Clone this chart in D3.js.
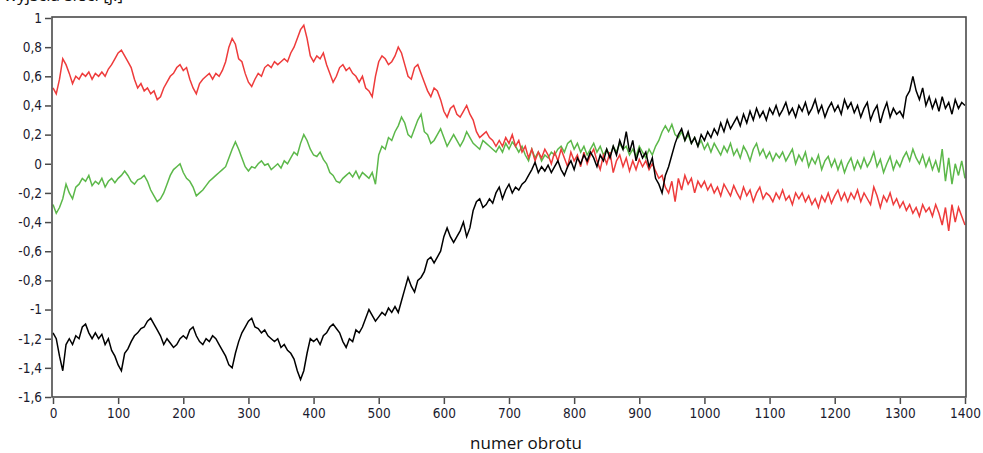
<!DOCTYPE html>
<html>
<head>
<meta charset="utf-8">
<script src="https://cdn.jsdelivr.net/npm/d3@7"></script>
<style>
  html, body { margin: 0; padding: 0; background: #fff; }
  svg { display: block; }
</style>
</head>
<body>
<svg id="chart" width="983" height="453"></svg>
<script>
// Turn step between consecutive samples
const turnStep = 5;

const yTicks = [1, 0.8, 0.6, 0.4, 0.2, 0, -0.2, -0.4, -0.6, -0.8, -1, -1.2, -1.4, -1.6];
const xTicks = [0, 100, 200, 300, 400, 500, 600, 700, 800, 900, 1000, 1100, 1200, 1300, 1400];

const redValues = [
  0.52,0.48,0.58,0.72,0.68,0.62,0.55,0.6,0.58,0.62,0.6,0.63,0.58,0.62,0.6,0.63,0.6,0.65,0.68,0.72,
  0.76,0.78,0.74,0.7,0.66,0.58,0.52,0.55,0.5,0.52,0.48,0.5,0.44,0.46,0.52,0.56,0.6,0.62,0.66,0.68,
  0.64,0.66,0.58,0.52,0.48,0.55,0.58,0.6,0.62,0.58,0.62,0.6,0.64,0.7,0.8,0.86,0.82,0.72,0.7,0.62,
  0.56,0.53,0.58,0.62,0.6,0.66,0.68,0.66,0.7,0.68,0.7,0.72,0.7,0.76,0.8,0.86,0.92,0.95,0.86,0.74,
  0.7,0.74,0.72,0.76,0.68,0.62,0.56,0.6,0.66,0.68,0.64,0.66,0.62,0.6,0.56,0.6,0.52,0.5,0.46,0.6,
  0.7,0.74,0.72,0.68,0.7,0.74,0.8,0.76,0.68,0.6,0.58,0.66,0.68,0.62,0.56,0.5,0.46,0.52,0.5,0.44,
  0.36,0.32,0.38,0.4,0.34,0.32,0.36,0.4,0.34,0.3,0.22,0.18,0.2,0.22,0.18,0.16,0.12,0.16,0.12,0.18,
  0.14,0.2,0.12,0.16,0.08,0.12,0.04,0.1,0.02,0.08,0.04,0.1,0.06,0.0,0.08,0.02,0.1,0.04,-0.02,0.08,
  0.02,0.06,-0.02,0.08,0.0,0.06,0.1,0.02,-0.04,0.06,0.0,0.08,-0.06,0.02,0.06,-0.02,0.04,-0.05,0.02,-0.04,
  0.03,-0.02,0.02,-0.04,0.0,-0.05,-0.1,-0.08,-0.16,-0.2,-0.12,-0.26,-0.1,-0.18,-0.08,-0.14,-0.1,-0.2,-0.12,-0.16,
  -0.12,-0.18,-0.14,-0.2,-0.16,-0.22,-0.14,-0.18,-0.22,-0.15,-0.2,-0.24,-0.16,-0.22,-0.18,-0.26,-0.2,-0.16,-0.24,-0.2,
  -0.22,-0.26,-0.2,-0.24,-0.18,-0.25,-0.22,-0.28,-0.2,-0.24,-0.2,-0.26,-0.22,-0.28,-0.24,-0.3,-0.22,-0.26,-0.2,-0.27,
  -0.22,-0.18,-0.25,-0.2,-0.26,-0.2,-0.24,-0.18,-0.26,-0.2,-0.24,-0.28,-0.16,-0.22,-0.3,-0.22,-0.26,-0.2,-0.28,-0.24,
  -0.3,-0.26,-0.32,-0.28,-0.34,-0.3,-0.36,-0.28,-0.33,-0.3,-0.36,-0.28,-0.34,-0.42,-0.3,-0.46,-0.28,-0.4,-0.3,-0.36,
  -0.42
];

const greenValues = [
  -0.28,-0.34,-0.3,-0.24,-0.14,-0.2,-0.24,-0.16,-0.14,-0.1,-0.12,-0.08,-0.15,-0.12,-0.14,-0.1,-0.16,-0.12,-0.1,-0.13,
  -0.1,-0.08,-0.05,-0.08,-0.12,-0.14,-0.11,-0.1,-0.08,-0.12,-0.18,-0.22,-0.26,-0.24,-0.2,-0.14,-0.08,-0.04,-0.02,0.0,
  -0.06,-0.1,-0.12,-0.16,-0.22,-0.2,-0.18,-0.15,-0.12,-0.1,-0.08,-0.06,-0.04,-0.02,0.04,0.1,0.15,0.1,0.04,-0.02,
  -0.05,-0.02,-0.03,0.0,0.02,-0.01,0.0,-0.04,-0.02,0.0,-0.03,0.02,0.0,0.04,0.08,0.06,0.14,0.2,0.16,0.1,
  0.06,0.05,0.08,0.03,0.0,-0.06,-0.08,-0.12,-0.13,-0.1,-0.08,-0.06,-0.09,-0.05,-0.1,-0.06,-0.08,-0.1,-0.06,-0.14,
  0.06,0.12,0.1,0.18,0.16,0.22,0.26,0.32,0.28,0.2,0.18,0.24,0.3,0.34,0.22,0.2,0.14,0.16,0.2,0.24,
  0.18,0.12,0.16,0.2,0.16,0.12,0.16,0.22,0.18,0.14,0.12,0.1,0.16,0.14,0.12,0.1,0.08,0.12,0.08,0.14,
  0.1,0.15,0.12,0.08,0.12,0.06,0.02,0.1,0.04,0.08,0.02,0.06,0.04,0.08,0.06,0.1,0.12,0.08,0.14,0.16,
  0.1,0.14,0.08,0.12,0.06,0.1,0.14,0.08,0.12,0.06,0.1,0.05,0.12,0.08,0.14,0.1,0.12,0.06,0.1,0.05,
  0.12,0.08,0.04,0.1,0.06,0.12,0.16,0.22,0.26,0.22,0.27,0.2,0.18,0.22,0.16,0.2,0.14,0.18,0.12,0.16,
  0.1,0.14,0.08,0.14,0.1,0.06,0.12,0.08,0.14,0.06,0.1,0.04,0.12,0.08,0.02,0.1,0.14,0.06,0.1,0.04,
  0.08,0.02,0.07,0.04,0.08,0.02,0.06,0.1,0.0,0.06,0.02,0.08,-0.02,0.04,0.0,0.06,-0.04,0.02,0.05,-0.02,
  0.03,-0.04,0.02,-0.06,0.0,0.04,-0.04,0.02,-0.03,0.04,-0.02,0.02,0.08,-0.02,0.03,-0.06,0.0,0.05,-0.04,0.02,
  -0.02,0.04,0.08,0.02,0.1,0.04,0.0,0.06,-0.02,0.04,-0.04,0.02,-0.06,0.1,-0.12,0.04,-0.14,0.0,-0.08,0.02,
  -0.1
];

const blackValues = [
  -1.16,-1.2,-1.32,-1.42,-1.24,-1.2,-1.24,-1.18,-1.2,-1.12,-1.1,-1.16,-1.2,-1.16,-1.2,-1.17,-1.24,-1.2,-1.28,-1.32,
  -1.38,-1.42,-1.3,-1.27,-1.22,-1.18,-1.16,-1.13,-1.12,-1.08,-1.06,-1.1,-1.14,-1.18,-1.24,-1.2,-1.23,-1.26,-1.24,-1.2,
  -1.18,-1.2,-1.14,-1.12,-1.18,-1.22,-1.24,-1.2,-1.22,-1.18,-1.2,-1.24,-1.28,-1.32,-1.38,-1.4,-1.3,-1.22,-1.16,-1.12,
  -1.08,-1.06,-1.12,-1.13,-1.16,-1.14,-1.18,-1.2,-1.22,-1.2,-1.26,-1.24,-1.28,-1.3,-1.34,-1.42,-1.48,-1.42,-1.3,-1.2,
  -1.22,-1.2,-1.24,-1.18,-1.16,-1.12,-1.1,-1.13,-1.16,-1.22,-1.26,-1.2,-1.22,-1.14,-1.16,-1.12,-1.06,-1.0,-1.04,-1.08,
  -1.05,-1.02,-1.04,-0.99,-1.02,-0.98,-1.02,-0.94,-0.86,-0.78,-0.84,-0.88,-0.8,-0.78,-0.74,-0.66,-0.64,-0.68,-0.64,-0.6,
  -0.5,-0.44,-0.5,-0.54,-0.5,-0.46,-0.4,-0.5,-0.44,-0.32,-0.26,-0.24,-0.3,-0.28,-0.24,-0.27,-0.2,-0.16,-0.24,-0.18,
  -0.14,-0.2,-0.16,-0.18,-0.14,-0.12,-0.08,-0.04,0.01,-0.06,-0.02,-0.05,-0.01,-0.06,-0.02,0.02,-0.04,-0.08,-0.02,0.02,
  -0.04,0.04,0.0,0.06,0.02,0.08,0.04,-0.02,0.06,0.02,0.1,0.04,0.12,0.06,0.16,0.1,0.22,0.08,0.16,0.02,
  0.1,0.04,0.08,-0.02,0.04,-0.1,-0.14,-0.2,-0.08,-0.02,0.06,0.14,0.2,0.24,0.16,0.22,0.14,0.18,0.12,0.2,
  0.16,0.22,0.18,0.24,0.2,0.28,0.22,0.3,0.24,0.28,0.32,0.26,0.34,0.28,0.36,0.3,0.38,0.32,0.36,0.3,
  0.38,0.34,0.4,0.33,0.37,0.42,0.34,0.38,0.32,0.4,0.36,0.42,0.34,0.38,0.44,0.35,0.4,0.32,0.38,0.42,
  0.36,0.4,0.34,0.44,0.38,0.42,0.35,0.4,0.32,0.38,0.42,0.3,0.36,0.4,0.28,0.36,0.42,0.32,0.38,0.34,
  0.36,0.32,0.46,0.5,0.6,0.5,0.44,0.52,0.4,0.46,0.38,0.44,0.36,0.46,0.38,0.42,0.34,0.44,0.38,0.42,
  0.4
];

const seriesList = [
  { name: "green", color: "#5cb84a", values: greenValues },
  { name: "red", color: "#ee3b3b", values: redValues },
  { name: "black", color: "#000000", values: blackValues }
];

const svg = d3.select("#chart");
const margin = { left: 53, right: 18, top: 18, bottom: 56 };
const W = 983, H = 453;

const x = d3.scaleLinear().domain([0, 1400]).range([margin.left, W - margin.right]);
const y = d3.scaleLinear().domain([-1.6, 1]).range([H - margin.bottom, margin.top]);

const fmt = v => d3.format("")(Math.round(v * 10) / 10).replace(".", ",").replace("−", "-");

// Axis title above the plot (runs off the top edge)
svg.append("text")
  .attr("x", 4).attr("y", 1)
  .attr("font-family", "'Open Sans', sans-serif")
  .attr("font-size", 17)
  .attr("fill", "#111")
  .text("wyjścia sieci [j.]");

// Series lines
const line = d3.line()
  .x((d, i) => x(i * turnStep))
  .y(d => y(d));

const plot = svg.append("g");
seriesList.forEach(s => {
  plot.append("path")
    .datum(s.values)
    .attr("fill", "none")
    .attr("stroke", s.color)
    .attr("stroke-width", 1.5)
    .attr("stroke-linejoin", "miter")
    .attr("d", line);
});

// Frame
svg.append("rect")
  .attr("x", x(0) - 1).attr("y", y(1) - 1)
  .attr("width", x(1400) - x(0) + 2)
  .attr("height", y(-1.6) - y(1) + 1)
  .attr("fill", "none")
  .attr("stroke", "#4a4a4a")
  .attr("stroke-width", 1.6);

// Y axis
const yAxis = d3.axisLeft(y).tickValues(yTicks).tickSize(6).tickPadding(3).tickFormat(fmt);
const gy = svg.append("g").attr("transform", `translate(${x(0) - 2},0)`).call(yAxis);
gy.select(".domain").remove();

// X axis
const xAxis = d3.axisBottom(x).tickValues(xTicks).tickSize(6).tickPadding(4).tickFormat(d3.format("d"));
const gx = svg.append("g").attr("transform", `translate(0,${y(-1.6) + 1})`).call(xAxis);
gx.select(".domain").remove();

[gx, gy].forEach(g => {
  g.selectAll(".tick line").attr("stroke", "#4a4a4a").attr("stroke-width", 1.5);
  g.selectAll(".tick text")
    .attr("font-family", "'DejaVu Sans Condensed', 'DejaVu Sans', sans-serif")
    .attr("font-size", 13.5)
    .attr("fill", "#1a1a2e");
});

// X axis title
svg.append("text")
  .attr("x", (x(0) + x(1400)) / 2 + 17)
  .attr("y", 449)
  .attr("text-anchor", "middle")
  .attr("font-family", "'Open Sans', sans-serif")
  .attr("font-size", 17)
  .attr("fill", "#111")
  .text("numer obrotu");
</script>
</body>
</html>
